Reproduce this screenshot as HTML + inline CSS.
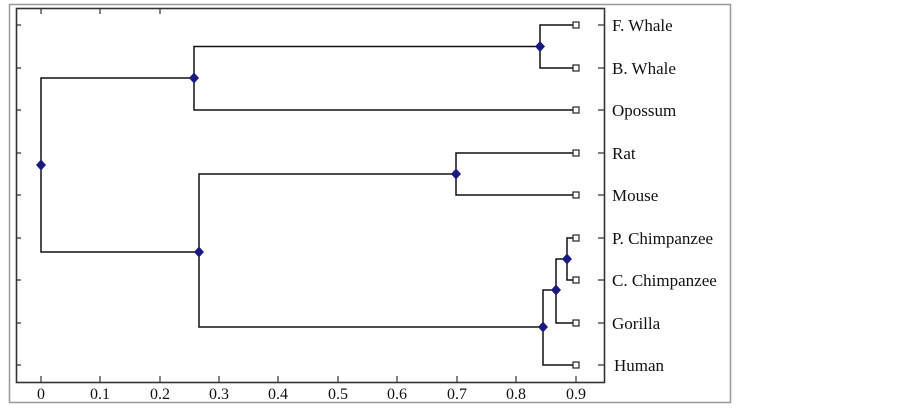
<!DOCTYPE html><html><head><style>body{margin:0;background:#fff}</style></head><body>
<svg width="903" height="407" xmlns="http://www.w3.org/2000/svg" font-family="Liberation Serif, serif">
<rect x="9.5" y="4.5" width="721" height="398" fill="none" stroke="#999" stroke-width="1.5"/>
<rect x="16.5" y="8.5" width="588" height="374" fill="none" stroke="#333" stroke-width="1.6"/>
<g stroke="#333" stroke-width="1.2">
<path d="M41 8v6M100 8v6M160 8v6M41 382v-6M100 382v-6M160 382v-6M219 382v-6M278 382v-6M338 382v-6M397 382v-6M457 382v-6M516 382v-6M576 382v-6"/>
<path d="M16 25h5M16 68h5M16 110h5M16 153h5M16 195h5M16 238h5M16 280h5M16 323h5M16 365h5"/>
<path d="M604 25h-6M604 68h-6M604 110h-6M604 153h-6M604 195h-6M604 238h-6M604 280h-6M604 323h-6M604 365h-6"/>
</g>
<g stroke="#111" stroke-width="1.5" fill="none">
<path d="M576 25H540V68H576M540 46.5H194V110H576M194 78H41V252H199"/>
<path d="M576 153H456V195H576M456 174H199V327H543"/>
<path d="M576 238H567V280H576M567 259H556V323H576M556 290H543V365H576"/>
</g>
<g fill="#fff" stroke="#222" stroke-width="1.2">
<rect x="573" y="22" width="6" height="6"/><rect x="573" y="65" width="6" height="6"/><rect x="573" y="107" width="6" height="6"/><rect x="573" y="150" width="6" height="6"/><rect x="573" y="192" width="6" height="6"/><rect x="573" y="235" width="6" height="6"/><rect x="573" y="277" width="6" height="6"/><rect x="573" y="320" width="6" height="6"/><rect x="573" y="362" width="6" height="6"/>
</g>
<g fill="#1a1a80">
<path d="M540 41l5 5.5-5 5.5-5-5.5z"/><path d="M194 72.5l5 5.5-5 5.5-5-5.5z"/><path d="M41 159.5l5 5.5-5 5.5-5-5.5z"/><path d="M456 168.5l5 5.5-5 5.5-5-5.5z"/><path d="M199 246.5l5 5.5-5 5.5-5-5.5z"/><path d="M567 253.5l5 5.5-5 5.5-5-5.5z"/><path d="M556 284.5l5 5.5-5 5.5-5-5.5z"/><path d="M543 321.5l5 5.5-5 5.5-5-5.5z"/>
</g>
<g font-size="17" fill="#111">
<text x="612" y="31">F. Whale</text><text x="612" y="74">B. Whale</text><text x="612" y="116">Opossum</text><text x="612" y="159">Rat</text><text x="612" y="201">Mouse</text><text x="612" y="244">P. Chimpanzee</text><text x="612" y="286">C. Chimpanzee</text><text x="612" y="329">Gorilla</text><text x="614" y="371">Human</text>
</g>
<g font-size="16" fill="#111" text-anchor="middle">
<text x="41" y="399">0</text><text x="100" y="399">0.1</text><text x="160" y="399">0.2</text><text x="219" y="399">0.3</text><text x="278" y="399">0.4</text><text x="338" y="399">0.5</text><text x="397" y="399">0.6</text><text x="457" y="399">0.7</text><text x="516" y="399">0.8</text><text x="576" y="399">0.9</text>
</g>
</svg></body></html>
